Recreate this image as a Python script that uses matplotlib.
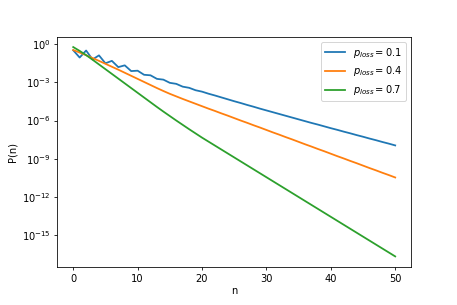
import numpy as np
import matplotlib
matplotlib.use("Agg")
import matplotlib.pyplot as plt
import matplotlib.ticker as mticker

# n values and log10 P(n)
n = list(range(51))

p_losses = [0.1, 0.4, 0.7]

log_p_01 = [-0.50, -1.07, -0.52, -1.22, -0.90, -1.52, -1.33, -1.82, -1.68, -2.13,
            -2.10, -2.42, -2.46, -2.74, -2.80, -3.05, -3.13, -3.35, -3.44, -3.63,
            -3.74, -3.90, -4.04, -4.19, -4.34, -4.49, -4.63, -4.78, -4.92, -5.07,
            -5.21, -5.35, -5.49, -5.63, -5.77, -5.91, -6.05, -6.19, -6.32, -6.46,
            -6.60, -6.73, -6.87, -7.00, -7.14, -7.27, -7.41, -7.54, -7.68, -7.81,
            -7.95]

log_p_04 = [-0.48, -0.68, -0.89, -1.11, -1.33, -1.56, -1.79, -2.02, -2.26, -2.50,
            -2.74, -2.98, -3.22, -3.46, -3.69, -3.91, -4.11, -4.31, -4.50, -4.69,
            -4.88, -5.07, -5.25, -5.44, -5.62, -5.81, -6.00, -6.18, -6.37, -6.55,
            -6.74, -6.93, -7.11, -7.30, -7.48, -7.67, -7.86, -8.04, -8.23, -8.41,
            -8.60, -8.79, -8.97, -9.16, -9.34, -9.53, -9.72, -9.90, -10.09, -10.27,
            -10.46]

log_p_07 = [-0.25, -0.55, -0.88, -1.24, -1.61, -1.98, -2.35, -2.72, -3.09, -3.46,
            -3.83, -4.20, -4.57, -4.94, -5.30, -5.65, -6.00, -6.34, -6.68, -7.01,
            -7.34, -7.65, -7.96, -8.27, -8.58, -8.89, -9.20, -9.51, -9.82, -10.13,
            -10.44, -10.75, -11.06, -11.37, -11.68, -11.99, -12.30, -12.61, -12.92, -13.23,
            -13.54, -13.85, -14.16, -14.47, -14.78, -15.09, -15.40, -15.71, -16.02, -16.33,
            -16.64]

y_ticks = [1e0, 1e-3, 1e-6, 1e-9, 1e-12, 1e-15]


def main():
    dpi = 457 / 6.4
    fig, ax = plt.subplots(figsize=(6.4, 305 / dpi), dpi=dpi)
    fig.subplots_adjust(left=0.125, right=0.9, top=0.88, bottom=0.125)

    for p, logs in zip(p_losses, [log_p_01, log_p_04, log_p_07]):
        ax.plot(n, 10.0 ** np.array(logs), lw=1.8, label=r"$p_{loss} = %s$" % p)

    ax.set_yscale("log")
    ax.set_yticks(y_ticks)
    ax.yaxis.set_minor_locator(mticker.NullLocator())
    ax.set_xlabel("n", labelpad=2)
    ax.set_ylabel("P(n)")
    ax.legend(loc="upper right")

    fig.savefig("out.png", dpi=dpi)


if __name__ == "__main__":
    main()
